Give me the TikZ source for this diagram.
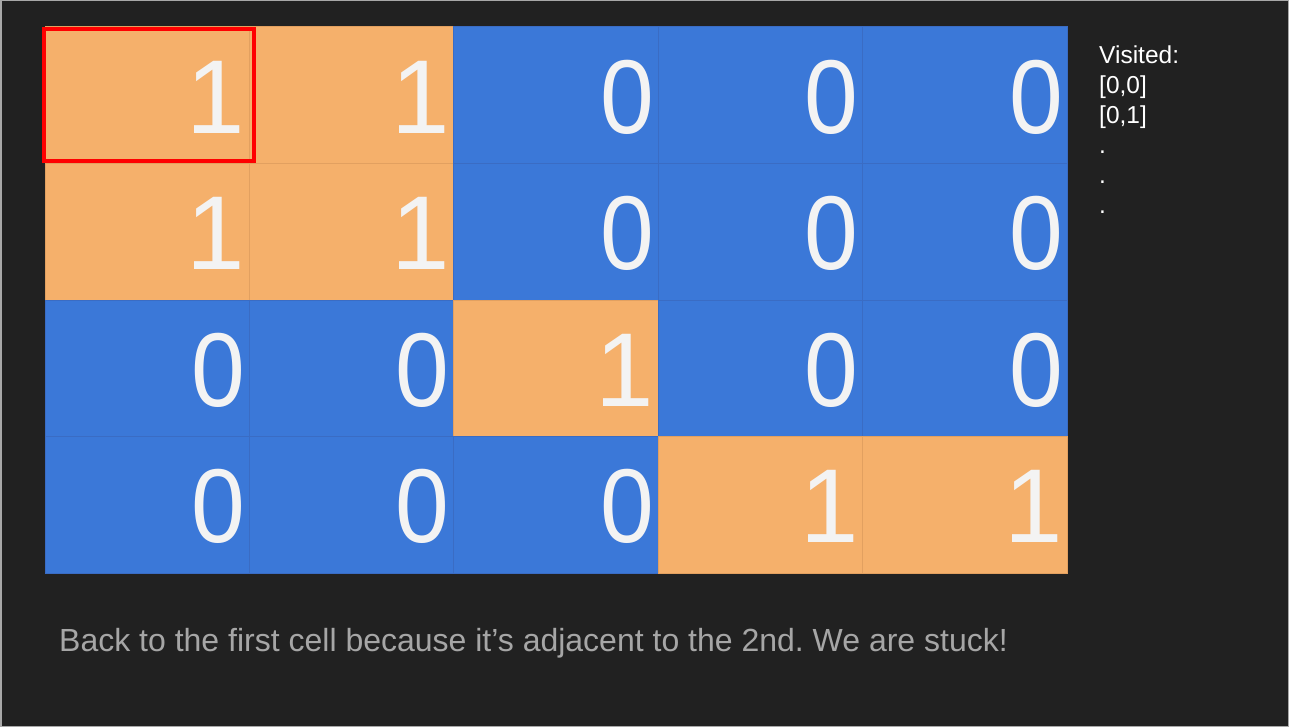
\documentclass[tikz,border=0pt]{standalone}
\usepackage{fontspec}
\setmainfont{Liberation Sans}
\frenchspacing
\definecolor{bg}{HTML}{212121}
\definecolor{frame}{HTML}{A8A8A8}
\definecolor{land}{HTML}{F5B06B}
\definecolor{landline}{HTML}{E2A060}
\definecolor{water}{HTML}{3B78D8}
\definecolor{waterline}{HTML}{3A6CC4}
\definecolor{digit}{HTML}{F3F3F3}
\definecolor{caption}{HTML}{A6A6A6}
\tikzset{
  cellbox/.style={minimum width=204.4pt,minimum height=136.5pt,inner sep=0pt,outer sep=0pt,line width=1pt},
  landcell/.style={cellbox,fill=land,draw=landline},
  watercell/.style={cellbox,fill=water,draw=waterline},
  digitlabel/.style={text=digit,font=\fontsize{105}{105}\selectfont,inner sep=0pt,anchor=base east},
  zerolabel/.style={digitlabel,xscale=0.92},
  sidetext/.style={text=white,font=\fontsize{24.5}{30}\selectfont,align=left,inner sep=0pt,anchor=north west},
  captiontext/.style={text=caption,font=\fontsize{32}{36}\selectfont,inner sep=0pt,anchor=base west},
  selbox/.style={draw=red,line width=4pt,inner sep=0pt,minimum width=210pt,minimum height=132pt}
}
\begin{document}
\begin{tikzpicture}[x=1pt,y=-1pt]
\fill[bg] (0,0) rectangle (1289,727);
\draw[frame,line width=1.5pt] (0.75,0.75) rectangle (1288.25,726.25);
\useasboundingbox (0,0) rectangle (1289,727);
% grid values
\foreach \r/\row in {0/{1,1,0,0,0},1/{1,1,0,0,0},2/{0,0,1,0,0},3/{0,0,0,1,1}}{
  \foreach \v [count=\c from 0] in \row {
    \pgfmathsetmacro{\cx}{45+204.4*\c+102.2}
    \pgfmathsetmacro{\cy}{27+136.5*\r+68.25}
    \pgfmathsetmacro{\rx}{45+204.4*\c+200.4}
    \pgfmathsetmacro{\by}{27+136.5*\r+106.3}
    \ifnum\v=1
      \node[landcell] (cell-\r-\c) at (\cx,\cy) {};
      \node[digitlabel] (val-\r-\c) at (\rx,\by) {\v};
    \else
      \node[watercell] (cell-\r-\c) at (\cx,\cy) {};
      \node[zerolabel] (val-\r-\c) at (\rx,\by) {\v};
    \fi
  }
}
\node[selbox] (sel) at (148.5,95.5) {};
\node[sidetext] (visited) at (1099,46) {Visited:\\{}[0,0]\\{}[0,1]\\.\\.\\.};
\node[captiontext] (cap) at (59,651) {Back to the first cell because it’s adjacent to the 2nd. We are stuck!};
\end{tikzpicture}
\end{document}
